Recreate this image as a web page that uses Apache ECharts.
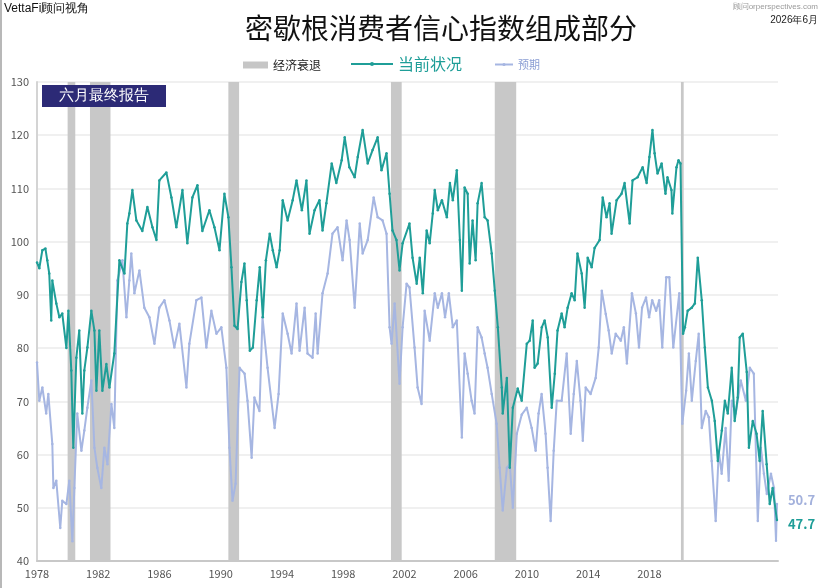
<!doctype html>
<html>
<head>
<meta charset="utf-8">
<style>
html, body { margin: 0; padding: 0; background: #fff; }
#main { width: 824px; height: 588px; }
</style>
</head>
<body>
<div id="main"></div>
<script src="https://cdn.jsdelivr.net/npm/echarts@6/dist/echarts.min.js"></script>
<script>
// recession periods (decimal years)
var recessions = [[1980.0, 1980.5], [1981.46, 1982.8], [1990.5, 1991.2], [2001.12, 2001.82], [2007.9, 2009.3], [2020.06, 2020.24]];

// 当前状况 (current conditions), [decimal year, value]
var current = [
    [1978.0, 96.1], [1978.15, 95], [1978.35, 98.4], [1978.55, 98.7], [1978.67, 96.5], [1978.8, 94], [1978.93, 85.2],
    [1979.0, 92.7], [1979.26, 88.4], [1979.46, 85.8], [1979.65, 86.5], [1979.92, 80], [1980.05, 87], [1980.24, 75.8],
    [1980.37, 61.3], [1980.57, 78.2], [1980.76, 83.3], [1980.96, 67.7], [1981.09, 75.8], [1981.29, 80.1], [1981.55, 87],
    [1981.75, 83.3], [1981.88, 72], [1982.07, 83.3], [1982.27, 72], [1982.53, 77], [1982.73, 72.6], [1983.05, 79],
    [1983.38, 96.5], [1983.71, 94], [1983.9, 103.4], [1984.03, 105.3], [1984.23, 109.7], [1984.49, 104], [1984.88, 102],
    [1985.21, 106.5], [1985.54, 102.7], [1985.8, 100.3], [1985.99, 111.5], [1986.45, 113], [1986.78, 108.3], [1987.1, 102.7],
    [1987.5, 109.7], [1987.82, 99.7], [1988.15, 108.3], [1988.48, 110.6], [1988.8, 102], [1989.26, 105.9], [1989.59, 102.7],
    [1989.92, 98.4], [1990.24, 109], [1990.5, 104.6], [1990.7, 95.2], [1990.9, 84.2], [1991.1, 83.6], [1991.35, 92.4],
    [1991.55, 95.9], [1991.7, 89], [1991.9, 79.5], [1992.1, 80.1], [1992.35, 89], [1992.55, 95.2], [1992.75, 85.8],
    [1992.95, 96.5], [1993.2, 101.5], [1993.4, 98.4], [1993.65, 95.2], [1993.85, 98.4], [1994.05, 107.8], [1994.37, 104],
    [1994.7, 107.8], [1994.95, 111.5], [1995.3, 105.9], [1995.6, 111.5], [1995.8, 101.5], [1996.13, 105.9], [1996.45, 107.8],
    [1996.65, 102.1], [1996.9, 107.2], [1997.25, 114.7], [1997.55, 111], [1997.9, 115.3], [1998.1, 119.6], [1998.4, 114],
    [1998.75, 112.1], [1998.95, 115.9], [1999.27, 121], [1999.6, 114.7], [1999.92, 117.2], [2000.25, 119.6], [2000.5, 113.4],
    [2000.83, 116.6], [2001.03, 109], [2001.22, 102.1], [2001.48, 100.3], [2001.68, 94.6], [2001.88, 99.7], [2002.33, 103.4],
    [2002.53, 97], [2002.8, 92.1], [2003.0, 97], [2003.2, 90.3], [2003.45, 102.1], [2003.65, 99.7], [2003.85, 105.3],
    [2003.98, 109.7], [2004.18, 105.9], [2004.45, 107.8], [2004.77, 104.6], [2004.97, 111], [2005.16, 107.8], [2005.42, 113.4],
    [2005.62, 100.3], [2005.75, 90.8], [2005.93, 110.2], [2006.13, 109], [2006.26, 95.9], [2006.45, 104], [2006.65, 96.5],
    [2006.78, 107.2], [2007.04, 111], [2007.24, 104.6], [2007.43, 104], [2007.7, 97.8], [2007.9, 90.8], [2008.1, 83.9],
    [2008.36, 72.6], [2008.42, 67.7], [2008.69, 74.4], [2008.88, 57.5], [2009.08, 68.8], [2009.4, 72.4], [2009.66, 70.1],
    [2009.99, 80.8], [2010.18, 81.4], [2010.38, 85.2], [2010.5, 76.3], [2010.7, 77.1], [2010.97, 83.9], [2011.16, 85.2],
    [2011.36, 82], [2011.62, 68.8], [2011.82, 75.2], [2012.0, 83.3], [2012.27, 86.5], [2012.46, 83.9], [2012.66, 87.6],
    [2012.92, 90.3], [2013.12, 89], [2013.3, 97.8], [2013.58, 94], [2013.77, 87.6], [2013.97, 97], [2014.23, 95.2],
    [2014.42, 98.8], [2014.75, 100.3], [2014.95, 108.3], [2015.2, 104.6], [2015.4, 107.2], [2015.53, 101.5], [2015.86, 107.8],
    [2016.18, 109], [2016.38, 111], [2016.71, 103.4], [2016.9, 111.5], [2017.23, 112.1], [2017.56, 114], [2017.82, 111],
    [2018.0, 115.9], [2018.2, 121], [2018.34, 116.6], [2018.53, 112.8], [2018.8, 114.7], [2019.05, 109], [2019.18, 112.1],
    [2019.44, 109.7], [2019.5, 105.3], [2019.77, 114], [2019.9, 115.3], [2020.03, 114.7], [2020.2, 82.7], [2020.32, 83.9],
    [2020.5, 87], [2020.77, 87.6], [2020.97, 88.4], [2021.16, 97], [2021.42, 89], [2021.62, 80.1], [2021.82, 72.6],
    [2022.08, 70.1], [2022.27, 66.3], [2022.47, 58.8], [2022.73, 64.5], [2022.93, 70.1], [2023.12, 67.7], [2023.38, 76.3],
    [2023.57, 66.3], [2023.77, 70.7], [2023.9, 82], [2024.1, 82.7], [2024.36, 75.5], [2024.5, 61.3], [2024.75, 66.3],
    [2025.0, 63.9], [2025.2, 58.8], [2025.4, 68.2], [2025.66, 58.2], [2025.86, 50.7], [2026.05, 53.7], [2026.33, 47.7]
];

// 预期 (expectations), [decimal year, value]
var expectations = [
    [1978.0, 77.3], [1978.15, 70.1], [1978.35, 72.6], [1978.6, 67.7], [1978.74, 71.4], [1979.0, 62], [1979.07, 53.7],
    [1979.26, 55.1], [1979.52, 46.2], [1979.65, 51.3], [1979.92, 50.7], [1980.11, 55.1], [1980.31, 43.7], [1980.44, 53.7],
    [1980.63, 67.7], [1980.9, 60.7], [1981.09, 64.5], [1981.29, 68.8], [1981.55, 73.9], [1981.75, 61.3], [1981.94, 57.5],
    [1982.2, 53.7], [1982.4, 61.3], [1982.6, 58.2], [1982.86, 69.5], [1983.05, 65], [1983.25, 92.7], [1983.58, 96.5],
    [1983.84, 85.8], [1984.03, 92.7], [1984.16, 97.8], [1984.36, 90.3], [1984.69, 94.6], [1985.01, 87.6], [1985.34, 85.8],
    [1985.67, 80.8], [1985.99, 87.6], [1986.32, 89], [1986.65, 85.2], [1986.97, 80.1], [1987.3, 84.6], [1987.76, 72.6],
    [1987.95, 80.8], [1988.41, 89], [1988.74, 89.5], [1989.06, 80.1], [1989.39, 87], [1989.72, 82.7], [1990.04, 83.9],
    [1990.37, 76.3], [1990.57, 61.3], [1990.77, 51.3], [1990.97, 54.5], [1991.23, 76.3], [1991.56, 75.2], [1991.75, 70.1],
    [1992.02, 59.4], [1992.2, 70.7], [1992.53, 68.2], [1992.73, 85.8], [1993.06, 76.3], [1993.52, 65], [1993.78, 71.4],
    [1994.05, 86.5], [1994.37, 82.7], [1994.63, 79], [1994.95, 88.4], [1995.15, 79.5], [1995.48, 87.6], [1995.67, 79],
    [1996.0, 78.2], [1996.2, 86.5], [1996.33, 79], [1996.65, 90.3], [1996.98, 94], [1997.3, 101.5], [1997.63, 102.7],
    [1997.96, 96.5], [1998.22, 104], [1998.42, 100.3], [1998.75, 87.6], [1999.08, 103.4], [1999.27, 97.8], [1999.6, 100.3],
    [1999.99, 108.3], [2000.25, 104.6], [2000.57, 104], [2000.83, 101.5], [2001.03, 83.9], [2001.16, 80.8], [2001.36, 88.4],
    [2001.68, 73.3], [2001.88, 83.9], [2002.14, 92.1], [2002.33, 91.4], [2002.66, 80.1], [2002.86, 72.6], [2003.12, 69.5],
    [2003.32, 87], [2003.65, 81.4], [2003.98, 90.3], [2004.18, 87.6], [2004.45, 90.3], [2004.65, 85.8], [2004.9, 90.3],
    [2005.16, 83.9], [2005.42, 85.2], [2005.75, 63.2], [2005.93, 79], [2006.13, 75.2], [2006.39, 70.1], [2006.58, 67.7],
    [2006.78, 83.9], [2007.04, 82], [2007.24, 79], [2007.43, 76.3], [2007.7, 71.4], [2008.02, 65.8], [2008.22, 57.5],
    [2008.42, 49.5], [2008.69, 57.5], [2008.88, 58.2], [2009.08, 50], [2009.34, 63.9], [2009.66, 67.5], [2009.99, 68.8],
    [2010.31, 65], [2010.57, 60.7], [2010.76, 67.7], [2010.96, 71.4], [2011.22, 63.9], [2011.35, 57.5], [2011.55, 47.5],
    [2011.75, 60.7], [2011.95, 70.1], [2012.27, 70.1], [2012.6, 79], [2012.86, 63.9], [2013.06, 71.4], [2013.26, 77.6],
    [2013.5, 70.1], [2013.65, 62.6], [2013.84, 72.6], [2014.16, 71.4], [2014.49, 74.4], [2014.69, 80.1], [2014.89, 90.8],
    [2015.15, 86.4], [2015.34, 83.3], [2015.54, 79], [2015.8, 82.7], [2016.13, 81.4], [2016.33, 83.9], [2016.53, 77.1],
    [2016.86, 90.3], [2017.12, 86.5], [2017.32, 80.1], [2017.52, 87.6], [2017.78, 89.5], [2017.98, 85.8], [2018.18, 89],
    [2018.44, 87], [2018.64, 89], [2018.84, 80.1], [2019.1, 93.3], [2019.3, 93.3], [2019.56, 80.1], [2019.95, 90.3],
    [2020.15, 65.8], [2020.4, 72], [2020.58, 79], [2020.77, 70.1], [2021.03, 77.6], [2021.22, 82.7], [2021.42, 65],
    [2021.68, 68.2], [2021.88, 67], [2022.07, 58.8], [2022.33, 47.5], [2022.53, 60.7], [2022.72, 56.4], [2022.98, 65],
    [2023.18, 55.1], [2023.38, 70.1], [2023.64, 67.7], [2023.97, 73.9], [2024.3, 70.1], [2024.56, 76.3], [2024.82, 75.2],
    [2025.08, 47.5], [2025.28, 61.3], [2025.48, 56.4], [2025.67, 52.6], [2025.94, 56.4], [2026.14, 53.7], [2026.27, 43.8],
    [2026.33, 50.7]
];

var yTicks = { min: 40, max: 130, step: 10 };
var xTicks = { min: 1978, max: 2026.4, step: 4, lastShown: 2018 };

var TEAL = '#1f9e98';
var BLUE = '#a6b6e2';

var chart = echarts.init(document.getElementById('main'));

chart.setOption({
    animation: false,
    textStyle: { fontFamily: '"Noto Sans CJK SC", "Noto Sans", sans-serif' },
    title: {
        text: '密歇根消费者信心指数组成部分',
        left: 240,
        top: 9,
        textStyle: { fontSize: 28, fontWeight: 'normal', color: '#111' }
    },
    legend: [{
        data: [{ name: '经济衰退', icon: 'rect', itemStyle: { color: '#c6c6c6' } }],
        left: 238, top: 54,
        itemWidth: 25, itemHeight: 7, itemGap: 6,
        textStyle: { fontSize: 12, color: '#222' }
    }, {
        data: ['当前状况'],
        left: 345, top: 51,
        itemWidth: 42, itemHeight: 5, itemGap: 2,
        textStyle: { fontSize: 16, color: TEAL }
    }, {
        data: ['预期'],
        left: 489, top: 54,
        itemWidth: 18, itemHeight: 4, itemGap: 2,
        textStyle: { fontSize: 11, color: '#8a9dd4' }
    }],
    grid: { left: 37, right: 46, top: 82, bottom: 27 },
    xAxis: {
        type: 'value',
        min: xTicks.min,
        max: xTicks.max,
        interval: xTicks.step,
        axisLine: { lineStyle: { color: '#c8c8c8', width: 2 } },
        axisTick: { show: false },
        splitLine: { show: false },
        axisLabel: {
            color: '#555', fontSize: 11, margin: 7,
            formatter: function (v) { return v <= xTicks.lastShown ? String(v) : ''; }
        }
    },
    yAxis: {
        type: 'value',
        min: yTicks.min,
        max: yTicks.max,
        interval: yTicks.step,
        axisLine: { show: true, lineStyle: { color: '#d4d4d4', width: 2 } },
        axisTick: { show: false },
        splitLine: { lineStyle: { color: '#ebebeb', width: 1.5 } },
        axisLabel: { color: '#555', fontSize: 11, margin: 8 }
    },
    series: [{
        name: '经济衰退',
        type: 'line',
        data: [],
        silent: true,
        z: 1,
        markArea: {
            silent: true,
            itemStyle: { color: '#c8c8c8' },
            data: recessions.map(function (r) {
                return [{ xAxis: r[0] }, { xAxis: r[1] }];
            })
        }
    }, {
        name: '预期',
        type: 'line',
        data: expectations,
        z: 3,
        symbol: 'circle',
        symbolSize: 2.5,
        showAllSymbol: true,
        lineStyle: { color: BLUE, width: 2 },
        itemStyle: { color: BLUE },
        endLabel: {
            show: true, distance: 11, offset: [0, -4],
            color: '#a3b1dc', fontSize: 13, fontWeight: 'bold',
            formatter: function (p) { return p.value[1].toFixed(1); }
        }
    }, {
        name: '当前状况',
        type: 'line',
        data: current,
        z: 4,
        symbol: 'circle',
        symbolSize: 2.5,
        showAllSymbol: true,
        lineStyle: { color: TEAL, width: 2 },
        itemStyle: { color: TEAL },
        endLabel: {
            show: true, distance: 11, offset: [0, 4],
            color: TEAL, fontSize: 13, fontWeight: 'bold',
            formatter: function (p) { return p.value[1].toFixed(1); }
        }
    }],
    graphic: [{
        type: 'line',
        shape: { x1: 1, y1: 0, x2: 1, y2: 588 },
        style: { stroke: '#b8b8b8', lineWidth: 2 }
    }, {
        type: 'text',
        left: 4, top: 3,
        style: { text: 'VettaFi顾问视角', fontSize: 12, fill: '#111' }
    }, {
        type: 'text',
        right: 6, top: 3,
        style: { text: '顾问orperspectives.com', fontSize: 8, fill: '#9a9a9a' }
    }, {
        type: 'text',
        right: 6, top: 15,
        style: { text: '2026年6月', fontSize: 10, fill: '#222' }
    }, {
        type: 'group',
        left: 42, top: 85,
        z: 100,
        children: [{
            type: 'rect',
            z: 100,
            shape: { x: 0, y: 0, width: 124, height: 22 },
            style: { fill: '#2c2a76' }
        }, {
            type: 'text',
            z: 101,
            x: 62, y: 11,
            style: { text: '六月最终报告', fontSize: 15, fill: '#fff', align: 'center', verticalAlign: 'middle' }
        }]
    }]
});
</script>
</body>
</html>
